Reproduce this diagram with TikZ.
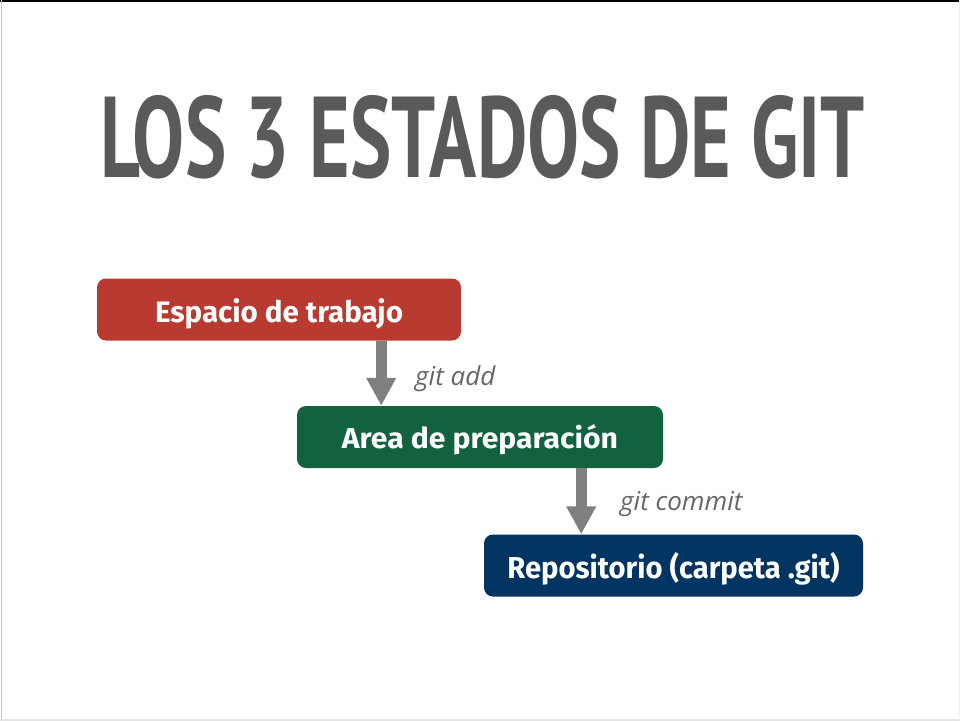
\documentclass[tikz,border=0pt]{standalone}
\usepackage{graphicx}
\usepackage{fontspec}
\setmainfont{Fira Sans}
\newfontfamily\titlefont{PT Sans}
\newfontfamily\labelfont{Open Sans}
\usetikzlibrary{arrows.meta}
\definecolor{boxred}{RGB}{185,58,48}
\definecolor{boxgreen}{RGB}{18,98,63}
\definecolor{boxblue}{RGB}{1,52,96}
\definecolor{titlegray}{RGB}{90,90,90}
\definecolor{arrowgray}{RGB}{128,128,128}
\definecolor{labelgray}{RGB}{102,102,102}
\tikzset{
  statebox/.style={rounded corners=9pt, inner sep=0pt, text=white, text depth=0pt, minimum height=62pt},
  flow/.style={draw=arrowgray, line width=11pt, -{Triangle[width=28pt,length=28pt]}},
  cmdlabel/.style={anchor=base west, inner sep=0pt, text=labelgray, font=\labelfont\itshape\fontsize{26}{30}\selectfont}
}
\begin{document}
\begin{tikzpicture}[x=1pt,y=-1pt]
\fill[white] (0,0) rectangle (960,721);
\useasboundingbox (0,0) rectangle (960,721);
\draw[black, line width=2pt] (0,1) -- (960,1);
\draw[gray!45, line width=1.5pt] (1.5,0) -- (1.5,721);
\draw[gray!20, line width=1.5pt] (0,720) -- (960,720);
\draw[gray!10, line width=1pt] (959.5,0) -- (959.5,721);

\node[anchor=north, inner sep=0pt, text=titlegray] (title) at (482.5,95)
  {\resizebox{765pt}{82pt}{\titlefont\bfseries LOS 3 ESTADOS DE GIT}};

\node[statebox, fill=boxred, minimum width=364pt, text height=25pt] (ws) at (279,309.5)
  {\resizebox{248pt}{24pt}{\bfseries Espacio de trabajo}};
\node[statebox, fill=boxgreen, minimum width=366pt, text height=22pt] (sa) at (480,437)
  {\resizebox{276pt}{24pt}{\bfseries Area de preparación}};
\node[statebox, fill=boxblue, minimum width=379pt, text height=25pt] (repo) at (673.5,565.5)
  {\resizebox{332pt}{26pt}{\bfseries Repositorio (carpeta .git)}};

\draw[flow] ([xshift=-80pt]ws.south east) -- ([xshift=-80pt]ws.south east |- sa.north);
\draw[flow] ([xshift=-82pt]sa.south east) -- ([xshift=-82pt]sa.south east |- repo.north);

\node[cmdlabel] (addlbl) at (415,385) {git add};
\node[cmdlabel] (commitlbl) at (620,510) {git commit};
\end{tikzpicture}
\end{document}
